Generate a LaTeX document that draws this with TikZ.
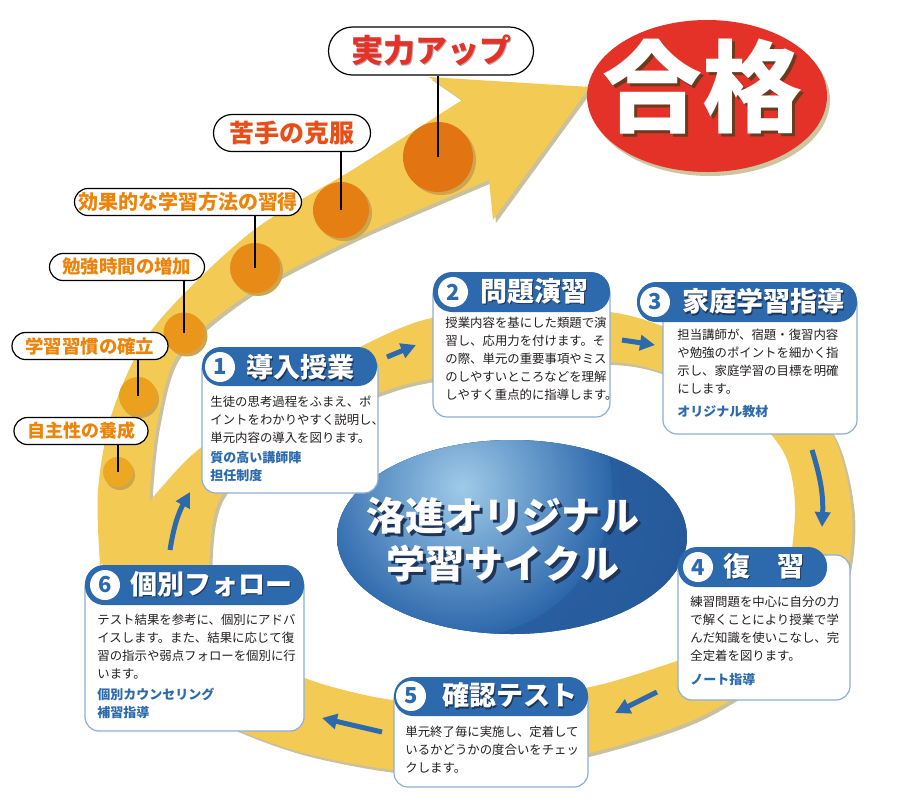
\documentclass[tikz,border=0pt]{standalone}
\usepackage{fontspec}
\setmainfont{Noto Sans CJK JP}
\usetikzlibrary{arrows.meta}

\definecolor{banda}{RGB}{243,202,84}
\definecolor{bandasombra}{RGB}{200,192,158}
\definecolor{azul}{RGB}{44,106,173}
\definecolor{azulborde}{RGB}{140,175,215}
\definecolor{azulsombra}{RGB}{30,52,88}
\definecolor{azulclaro}{RGB}{172,214,240}
\definecolor{azulmedio}{RGB}{44,104,172}
\definecolor{azuloscuro}{RGB}{36,86,150}
\definecolor{tinta}{RGB}{35,31,32}
\definecolor{naranja}{RGB}{236,132,12}
\definecolor{naranjarojo}{RGB}{232,78,24}
\definecolor{rojo}{RGB}{229,50,41}
\definecolor{rojosombra}{RGB}{205,196,160}
\definecolor{marron}{RGB}{110,58,30}
\definecolor{puntosombra}{RGB}{205,165,80}
\definecolor{punto1}{RGB}{236,168,32}
\definecolor{punto2}{RGB}{235,160,30}
\definecolor{punto3}{RGB}{233,150,27}
\definecolor{punto4}{RGB}{231,138,22}
\definecolor{punto5}{RGB}{229,127,20}
\definecolor{punto6}{RGB}{226,116,17}

% texto con sombra desplazada: color, desplazamiento, texto
\newcommand{\consombra}[3]{\rlap{\kern#2\raisebox{-#2}{\color{#1}#3}}#3}

\begin{document}
\begin{tikzpicture}[
    x=0.5pt,
    y=-0.5pt,
    cuerpo/.style={draw=azulborde, line width=0.6pt, fill=white, rounded corners=7pt},
    cabecera/.style={fill=azul, rounded corners=9.5pt},
    numero/.style={circle, fill=white, minimum size=15pt, inner sep=0pt,
      text=azul, font=\fontsize{11pt}{11pt}\selectfont\bfseries},
    titulo/.style={anchor=west, inner sep=0pt, text=white,
      font=\fontsize{13.5pt}{14pt}\selectfont\bfseries},
    texto/.style={anchor=north west, inner sep=0pt, align=left, text=tinta,
      font=\fontsize{6.2pt}{9pt}\selectfont},
    extra/.style={anchor=north west, inner sep=0pt, align=left, text=azul,
      font=\fontsize{6.5pt}{9pt}\selectfont\bfseries},
    etiqueta/.style={draw=black, line width=0.6pt, fill=white, rounded corners=6.75pt,
      minimum height=13.5pt, inner sep=0pt, text=naranja},
    linea/.style={black, line width=0.6pt},
    punto/.style={circle, inner sep=0pt},
    ciclo/.style={azul, line width=2.5pt, -{Triangle[length=7.5pt, width=7.5pt]}}
  ]
    \useasboundingbox (0,0) rectangle (900,800);

    % Anillo y flecha amarilla (sombra primero, luego relleno)
    \foreach \d/\c in {3/bandasombra, 0/banda} {
      \fill[\c, even odd rule, shift={(\d,\d)}]
        plot[smooth cycle] coordinates {(102,595) (112,540) (146,505) (192,455)
          (255,410) (330,363) (420,321) (523,307) (610,312) (665,327) (760,368)
          (830,430) (852,513) (842,590) (795,655) (700,717) (590,753) (480,772)
          (393,770) (300,752) (220,722) (140,675)}
        plot[smooth cycle] coordinates {(210,550) (222,495) (280,438) (400,386)
          (520,368) (610,362) (665,373) (745,410) (785,455) (795,513) (782,590)
          (735,640) (680,660) (590,687) (480,700) (393,700) (305,678) (245,640)
          (215,595)};
      \fill[\c, shift={(\d,\d)}]
        plot[smooth] coordinates {(100,565) (98,490) (113,410) (154,327)
          (250,233) (357,167) (462,100)}
        -- (429,77) -- (590,87) -- (493,220)
        -- plot[smooth] coordinates {(489,180) (357,237) (250,293) (179,353)
          (158,420) (150,490) (150,545)}
        -- cycle;
    }

    % Puntos sobre la flecha
    \fill[puntosombra] (120,475) circle (15);
    \node[punto, fill=punto1, minimum size=15pt] (p1) at (118,472) {};
    \fill[puntosombra] (140,399) circle (19);
    \node[punto, fill=punto2, minimum size=19pt] (p2) at (138,396) {};
    \fill[puntosombra] (187,336) circle (20.5);
    \node[punto, fill=punto3, minimum size=20.5pt] (p3) at (184,333) {};
    \fill[puntosombra] (258,271) circle (25);
    \node[punto, fill=punto4, minimum size=25pt] (p4) at (255,268) {};
    \fill[puntosombra] (344,213) circle (28);
    \node[punto, fill=punto5, minimum size=28pt] (p5) at (341,210) {};
    \fill[puntosombra] (441,160) circle (35);
    \node[punto, fill=punto6, minimum size=35pt] (p6) at (438,157) {};

    % Etiquetas
    \node[etiqueta, minimum width=67pt, font=\fontsize{9pt}{9pt}\selectfont\bfseries]
      (l1) at (81,431) {自主性の養成};
    \node[etiqueta, minimum width=78pt, font=\fontsize{9.2pt}{9pt}\selectfont\bfseries]
      (l2) at (90,346) {学習習慣の確立};
    \node[etiqueta, minimum width=77.5pt, font=\fontsize{9.2pt}{9pt}\selectfont\bfseries]
      (l3) at (127,267) {勉強時間の増加};
    \node[etiqueta, minimum width=113.5pt, font=\fontsize{10pt}{10pt}\selectfont\bfseries]
      (l4) at (188,202) {効果的な学習方法の習得};
    \node[etiqueta, minimum width=78.5pt, minimum height=18.5pt, rounded corners=9.25pt,
      text=naranjarojo, font=\fontsize{12.5pt}{12.5pt}\selectfont\bfseries]
      (l5) at (292,133) {苦手の克服};
    \node[etiqueta, minimum width=102.5pt, minimum height=24pt, rounded corners=12pt,
      text=rojo, font=\fontsize{16pt}{16pt}\selectfont\bfseries]
      (l6) at (431,51) {\consombra{black!30}{0.6pt}{実力アップ}};
    \draw[linea] (l1.south -| p1.center) -- (p1.center);
    \draw[linea] (l2.south -| p2.center) -- (p2.center);
    \draw[linea] (l3.south -| p3.center) -- (p3.center);
    \draw[linea] (l4.south -| p4.center) -- (p4.center);
    \draw[linea] (l5.south -| p5.center) -- (p5.center);
    \draw[linea] (l6.south -| p6.center) -- (p6.center);

    % Elipse central
    \fill[azuloscuro] (512,537) circle [x radius=175, y radius=97];
    \begin{scope}
      \clip (512,537) circle [x radius=175, y radius=97];
      \shade[inner color=azulmedio, outer color=azuloscuro] (470,500) circle (260);
      \shade[inner color=azulclaro, outer color=azulmedio, opacity=0.9] (462,487) circle (150);
    \end{scope}
    \node[align=center, text=white, font=\fontsize{19.5pt}{24pt}\selectfont\bfseries]
      (centro) at (503,541)
      {\consombra{azulsombra}{1.5pt}{洛進オリジナル}\\\consombra{azulsombra}{1.5pt}{学習サイクル}};

    % --- 1 導入授業 ---
    \draw[cuerpo] (202,355) rectangle (378,493);
    \fill[cabecera] (202,347) rectangle (377,386);
    \node[numero] (n1) at (220,367) {1};
    \node[titulo] (t1) at (246,368) {\consombra{azulsombra}{0.75pt}{導入授業}};
    \node[texto] (c1) at (210,396)
      {生徒の思考過程をふまえ、ポ\\イントをわかりやすく説明し、\\単元内容の導入を図ります。};
    \node[extra] (e1) at (210,451) {質の高い講師陣\\担任制度};

    % --- 2 問題演習 ---
    \draw[cuerpo] (433,280) rectangle (610,417);
    \fill[cabecera] (433,272) rectangle (610,312);
    \node[numero] (n2) at (453,292) {2};
    \node[titulo] (t2) at (480,292) {\consombra{azulsombra}{0.75pt}{問題演習}};
    \node[texto] (c2) at (445,317)
      {授業内容を基にした類題で演\\習し、応用力を付けます。そ\\の際、単元の重要事項やミス\\のしやすいところなどを理解\\しやすく重点的に指導します。};

    % --- 3 家庭学習指導 ---
    \draw[cuerpo] (663,290) rectangle (857,434);
    \fill[cabecera] (637,282) rectangle (857,322);
    \node[numero] (n3) at (655,302) {3};
    \node[titulo] (t3) at (682,302) {\consombra{azulsombra}{0.75pt}{家庭学習指導}};
    \node[texto] (c3) at (677,329)
      {担当講師が、宿題・復習内容\\や勉強のポイントを細かく指\\示し、家庭学習の目標を明確\\にします。};
    \node[extra] (e3) at (677,405) {オリジナル教材};

    % --- 4 復習 ---
    \draw[cuerpo] (678,555) rectangle (850,700);
    \fill[cabecera] (678,547) rectangle (827,587);
    \node[numero] (n4) at (698,567) {4};
    \node[titulo] (t4) at (723,567) {\consombra{azulsombra}{0.75pt}{復　習}};
    \node[texto] (c4) at (690,596)
      {練習問題を中心に自分の力\\で解くことにより授業で学\\んだ知識を使いこなし、完\\全定着を図ります。};
    \node[extra] (e4) at (690,673) {ノート指導};

    % --- 5 確認テスト ---
    \draw[cuerpo] (394,685) rectangle (588,787);
    \fill[cabecera] (394,677) rectangle (588,716);
    \node[numero] (n5) at (411,696) {5};
    \node[titulo] (t5) at (442,696) {\consombra{azulsombra}{0.75pt}{確認テスト}};
    \node[texto] (c5) at (405,726)
      {単元終了毎に実施し、定着して\\いるかどうかの度合いをチェッ\\クします。};

    % --- 6 個別フォロー ---
    \draw[cuerpo] (85,573) rectangle (304,731);
    \fill[cabecera] (85,565) rectangle (304,605);
    \node[numero] (n6) at (105,585) {6};
    \node[titulo] (t6) at (130,585) {\consombra{azulsombra}{0.75pt}{個別フォロー}};
    \node[texto] (c6) at (97,614)
      {テスト結果を参考に、個別にアドバ\\イスします。また、結果に応じて復\\習の指示や弱点フォローを個別に行\\います。};
    \node[extra] (e6) at (97,688) {個別カウンセリング\\補習指導};

    % Flechas del ciclo
    \coordinate (f1a) at (387,357);
    \coordinate (f1b) at (416,345);
    \coordinate (f2a) at (622,340);
    \coordinate (f2b) at (655,345);
    \coordinate (f3a) at (812,450);
    \coordinate (f3b) at (822,527);
    \coordinate (f4a) at (657,692);
    \coordinate (f4b) at (615,713);
    \coordinate (f5a) at (382,732);
    \coordinate (f5b) at (322,718);
    \coordinate (f6a) at (170,550);
    \coordinate (f6b) at (190,492);
    \draw[ciclo] (f1a) -- (f1b);
    \draw[ciclo] (f2a) -- (f2b);
    \draw[ciclo] (f3a) to[bend left=10] (f3b);
    \draw[ciclo] (f4a) -- (f4b);
    \draw[ciclo] (f5a) -- (f5b);
    \draw[ciclo] (f6a) to[bend left=10] (f6b);

    % 合格
    \fill[rojosombra] (710,100) circle [x radius=120, y radius=76];
    \fill[rojo] (707,96) circle [x radius=120, y radius=76];
    \node[text=white, font=\fontsize{50pt}{50pt}\selectfont\bfseries]
      (gokaku) at (702,88) {\consombra{marron}{1.5pt}{合格}};
  \end{tikzpicture}
\end{document}
